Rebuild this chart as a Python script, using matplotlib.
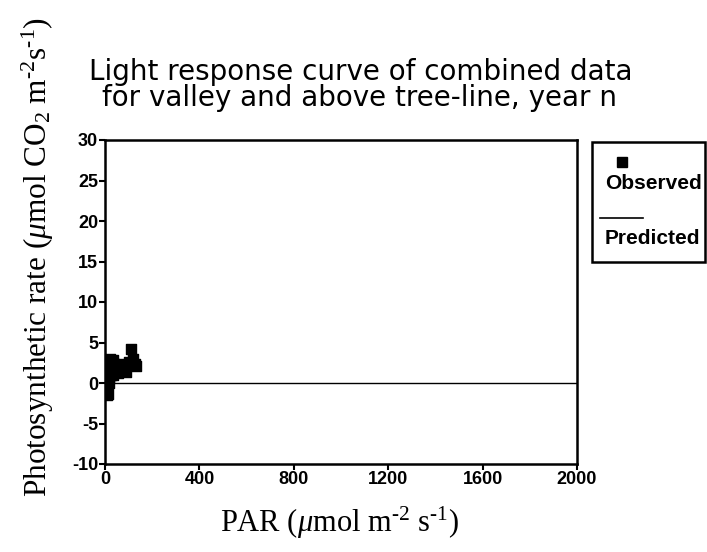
import matplotlib
matplotlib.use("Agg")
import matplotlib.pyplot as plt
from matplotlib.lines import Line2D
from matplotlib.patches import Rectangle

plt.rcParams["axes.unicode_minus"] = False
plt.rcParams["mathtext.fontset"] = "custom"
plt.rcParams["mathtext.rm"] = "Liberation Serif"
plt.rcParams["mathtext.it"] = "Liberation Serif:italic"

# Observed photosynthetic rate vs PAR
par_obs = [2, 3, 4, 5, 6, 8, 10, 12, 14, 16, 18, 20, 22, 25, 28, 30, 32, 35,
           38, 40, 45, 50, 55, 60, 65, 70, 75, 80, 90, 100, 110, 115, 5, 8,
           12, 15, 20, 25, 30, 10, 6, 4, 18, 22, 35, 45, 55, 125, 120, 130,
           8, 14]
rate_obs = [-1.0, -0.5, 0.2, 1.0, -0.8, 1.5, 0.5, 2.0, 1.2, 2.5, 0.8, 3.0, 1.8,
            2.6, 2.2, 1.5, 2.8, 2.0, 1.6, 2.4, 2.2, 2.0, 1.8, 2.4, 1.5, 2.2,
            1.6, 2.0, 1.4, 2.6, 4.2, 2.2, 0.0, -0.4, 0.8, 1.8, 2.2, 1.0, 2.6,
            -1.2, 1.8, 0.6, 0.0, 2.8, 1.0, 1.4, 1.2, 2.4, 3.0, 2.1, -1.5,
            -1.3]

# Predicted curve
par_pred = [0, 2000]
rate_pred = [0, 0]

x_ticks = [0, 400, 800, 1200, 1600, 2000]
y_ticks = [-10, -5, 0, 5, 10, 15, 20, 25, 30]

fig = plt.figure(figsize=(7.07, 5.52), dpi=100)
ax = fig.add_axes([105 / 707, 1 - 464 / 552, (577 - 105) / 707, (464 - 140) / 552])

ax.plot(par_pred, rate_pred, color="black", lw=1.0)
ax.scatter(par_obs, rate_obs, marker="s", s=60, color="black", zorder=3)

ax.set_xlim(0, 2000)
ax.set_ylim(-10, 30)
ax.set_xticks(x_ticks)
ax.set_yticks(y_ticks)
for s in ax.spines.values():
    s.set_linewidth(1.8)
ax.tick_params(direction="out", length=4, width=1.5, pad=1)
for lab in ax.get_xticklabels() + ax.get_yticklabels():
    lab.set_fontfamily("Liberation Sans")
    lab.set_fontweight("bold")
    lab.set_fontsize(13)

ax.set_xlabel(r"PAR ($\mu$mol m$^{\text{-}2}$ s$^{\text{-}1}$)",
              fontfamily="Liberation Serif", fontsize=22)
ax.xaxis.set_label_coords((340 - 105) / 472, (464 - 505) / 324)
ax.set_ylabel(r"Photosynthetic rate ($\mu$mol CO$_2$ m$^{\text{-}2}$s$^{\text{-}1}$)",
              fontfamily="Liberation Serif", fontsize=22.5)
ax.yaxis.set_label_coords((56 - 105) / 472, (464 - 257) / 324)

# Two-line title
fig.text(361 / 707, 1 - 80 / 552, "Light response curve of combined data",
         ha="center", va="baseline", fontfamily="DejaVu Sans", fontsize=20)
fig.text(360 / 707, 1 - 106 / 552, "for valley and above tree-line, year n",
         ha="center", va="baseline", fontfamily="DejaVu Sans", fontsize=20)

# Legend panel
fig.patches.append(Rectangle((592 / 707, 1 - 262 / 552), (705 - 592) / 707, (262 - 142) / 552,
                             transform=fig.transFigure, fill=False, lw=1.8,
                             edgecolor="black"))
fig.lines.append(Line2D([622 / 707], [1 - 162 / 552], marker="s", markersize=7,
                        color="black", linestyle="none", transform=fig.transFigure))
fig.text(653 / 707, 1 - 184 / 552, "Observed", ha="center", va="center",
         fontfamily="Liberation Sans", fontweight="bold", fontsize=15)
fig.lines.append(Line2D([600 / 707, 643 / 707], [1 - 218 / 552, 1 - 218 / 552],
                        color="black", lw=1.2, transform=fig.transFigure))
fig.text(652 / 707, 1 - 238 / 552, "Predicted", ha="center", va="center",
         fontfamily="Liberation Sans", fontweight="bold", fontsize=15)

fig.savefig("out.png", dpi=100)
